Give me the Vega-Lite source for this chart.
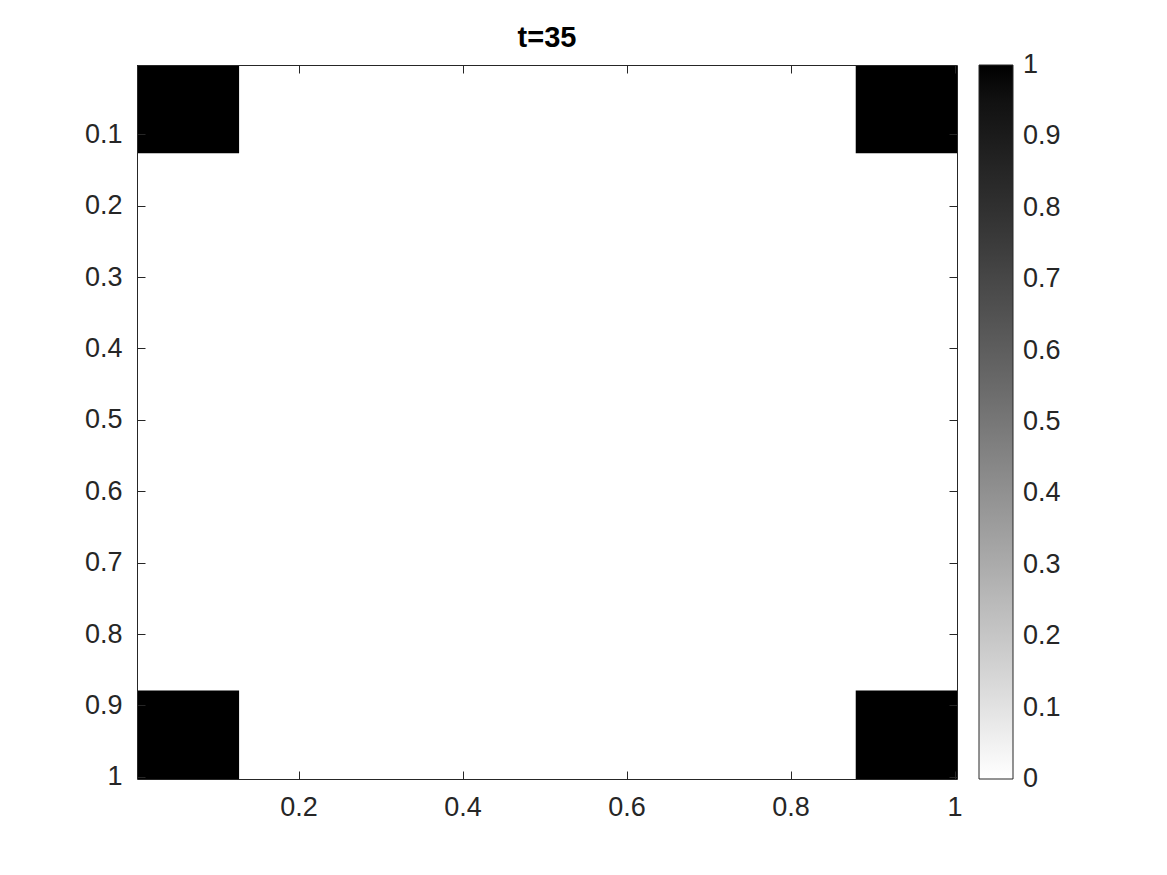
{
  "$schema": "https://vega.github.io/schema/vega-lite/v6.json",
  "width": 820,
  "height": 714,
  "autosize": {"type": "none"},
  "padding": {"left": 137, "top": 65, "right": 210, "bottom": 96},
  "background": "white",
  "config": {
    "font": "Liberation Sans",
    "view": {"stroke": null, "fill": "white"},
    "axis": {
      "domainColor": "#262626",
      "domainWidth": 1,
      "tickColor": "#262626",
      "tickWidth": 1,
      "tickSize": -8,
      "labelColor": "#262626",
      "labelFontSize": 27,
      "labelFont": "Liberation Sans",
      "grid": false,
      "title": null
    }
  },
  "title": {
    "text": "t=35",
    "fontSize": 29,
    "fontWeight": "bold",
    "color": "black",
    "offset": 12,
    "anchor": "middle",
    "font": "Liberation Sans"
  },
  "data": {
    "values": [
      {"x0": 0.003, "x1": 0.1275, "y0": 0.003, "y1": 0.1265, "v": 1},
      {"x0": 0.8795, "x1": 1.003, "y0": 0.003, "y1": 0.1265, "v": 1},
      {"x0": 0.003, "x1": 0.1275, "y0": 0.879, "y1": 1.003, "v": 1},
      {"x0": 0.8795, "x1": 1.003, "y0": 0.879, "y1": 1.003, "v": 1}
    ]
  },
  "layer": [
    {
      "mark": {"type": "rect", "strokeWidth": 0},
      "encoding": {
        "x": {
          "field": "x0",
          "type": "quantitative",
          "scale": {"domain": [0.003, 1.003], "nice": false, "zero": false},
          "axis": {"orient": "bottom", "values": [0.2, 0.4, 0.6, 0.8, 1], "labelPadding": 23, "format": "~g", "zindex": 1, "tickSize": -8}
        },
        "x2": {"field": "x1"},
        "y": {
          "field": "y0",
          "type": "quantitative",
          "scale": {"domain": [0.003, 1.003], "nice": false, "zero": false, "reverse": true},
          "axis": {"orient": "left", "values": [0.1, 0.2, 0.3, 0.4, 0.5, 0.6, 0.7, 0.8, 0.9, 1], "labelPadding": 23, "format": "~g", "zindex": 1, "tickSize": -8}
        },
        "y2": {"field": "y1"},
        "color": {
          "field": "v",
          "type": "quantitative",
          "scale": {"domain": [0, 1], "range": ["white", "black"]},
          "legend": {
            "title": null,
            "orient": "none",
            "legendX": 842,
            "legendY": 0,
            "direction": "vertical",
            "gradientLength": 714,
            "gradientThickness": 34,
            "gradientStrokeColor": "#262626",
            "gradientStrokeWidth": 1,
            "values": [0, 0.1, 0.2, 0.3, 0.4, 0.5, 0.6, 0.7, 0.8, 0.9, 1],
            "format": "~g",
            "labelFontSize": 27,
            "labelColor": "#262626",
            "labelFont": "Liberation Sans",
            "labelOffset": 10,
            "labelOverlap": false,
            "labelBaseline": "middle",
            "encode": {"labels": {"update": {"baseline": {"value": "middle"}}}}
          }
        }
      }
    },
    {
      "mark": {"type": "rect", "opacity": 0, "strokeWidth": 0},
      "encoding": {
        "x": {
          "field": "x0",
          "type": "quantitative",
          "axis": {"orient": "top", "values": [0.2, 0.4, 0.6, 0.8, 1], "labels": false, "zindex": 1, "tickSize": -8}
        },
        "x2": {"field": "x1"},
        "y": {
          "field": "y0",
          "type": "quantitative",
          "axis": {"orient": "right", "values": [0.1, 0.2, 0.3, 0.4, 0.5, 0.6, 0.7, 0.8, 0.9, 1], "labels": false, "zindex": 1, "tickSize": -8}
        },
        "y2": {"field": "y1"}
      }
    }
  ],
  "resolve": {"axis": {"x": "independent", "y": "independent"}}
}
